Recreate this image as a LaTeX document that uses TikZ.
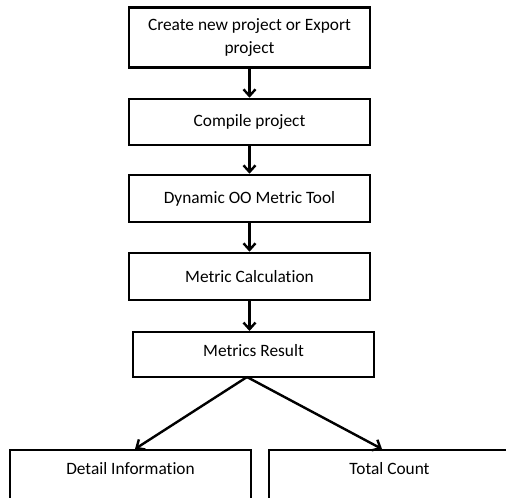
\documentclass[tikz,border=0pt]{standalone}
\usepackage{fontspec}
\setmainfont[Ligatures=NoCommon]{Carlito}
\usetikzlibrary{arrows.meta}
\begin{document}
\begin{tikzpicture}[x=0.75pt,y=-0.75pt,
  box/.style={draw=black, line width=1.9pt, rectangle, inner sep=0pt, align=center, font=\fontsize{13}{17.5}\selectfont},
  thinbox/.style={box, line width=1.5pt},
  arr/.style={line width=1.8pt, -{Straight Barb[length=5pt,width=9pt,line width=1.8pt]}}]
\useasboundingbox (0,0) rectangle (506,497);
\clip (0,0) rectangle (506,497);
\node[box, minimum width=180.75pt, minimum height=45pt] (b1) at (249.5,37.5) {Create new project or Export\\project};
\node[box, minimum width=180.75pt, minimum height=34.5pt] (b2) at (249.5,122) {Compile project};
\node[box, minimum width=180.75pt, minimum height=35.25pt] (b3) at (249.5,198.5) {Dynamic OO Metric Tool};
\node[box, minimum width=180.75pt, minimum height=35.25pt] (b4) at (249.5,276.5) {Metric Calculation};
\node[thinbox, minimum width=180.75pt, minimum height=33.75pt, text height=11pt, text depth=8pt] (b5) at (253.5,354.5) {Metrics Result};
\node[thinbox, anchor=north, minimum width=180.75pt, text height=18.5pt, text depth=40pt] (d) at (130.5,449) {Detail Information};
\node[thinbox, anchor=north, minimum width=180.75pt, text height=18.5pt, text depth=40pt] (t) at (389.5,449) {Total Count};
\coordinate (s) at (247,377);
\coordinate (dt) at (135,449);
\coordinate (tt) at (382,449);
\draw[arr] (b1.south) -- (b2.north);
\draw[arr] (b2.south) -- (b3.north);
\draw[arr] (b3.south) -- (b4.north);
\draw[arr] (b4.south) -- (b5.north -| b4.south);
\draw[arr] (s) -- (dt);
\draw[arr] (s) -- (tt);
\end{tikzpicture}
\end{document}
